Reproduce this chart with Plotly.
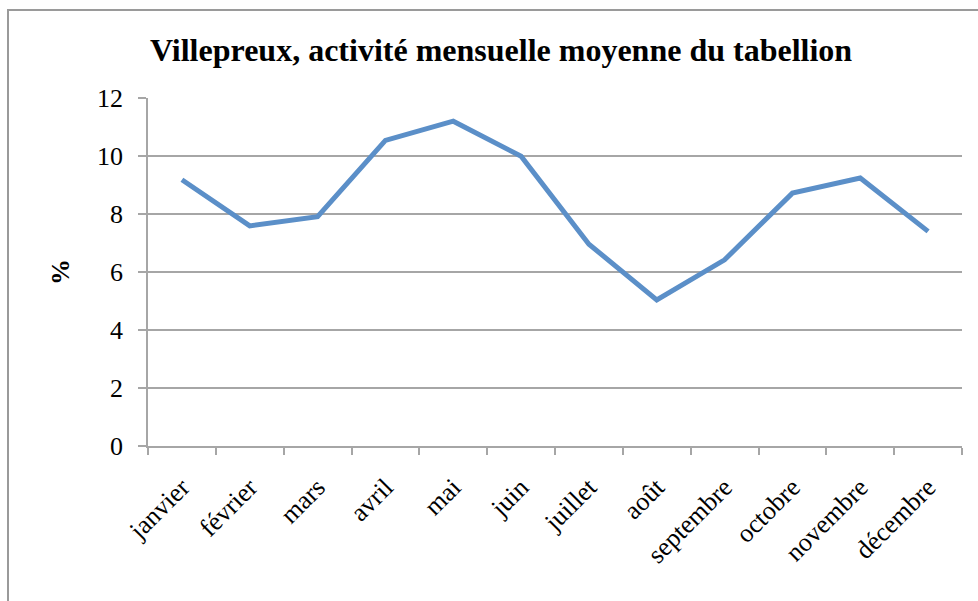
import plotly.graph_objects as go

# Monthly mean activity of the Villepreux tabellion (% of yearly acts)
months = ["janvier", "février", "mars", "avril", "mai", "juin",
          "juillet", "août", "septembre", "octobre", "novembre", "décembre"]
activity_pct = [9.18, 7.59, 7.91, 10.54, 11.2, 9.99,
                6.96, 5.04, 6.42, 8.72, 9.24, 7.40]
y_ticks = [0, 2, 4, 6, 8, 10, 12]

SERIF = "Liberation Serif, Times New Roman, serif"
GRID = "#a6a6a6"

fig = go.Figure(
    go.Scatter(
        x=months,
        y=activity_pct,
        mode="lines",
        line=dict(color="#5b8fc8", width=5),
        hoverinfo="x+y",
    )
)

W, H = 978, 601
L, R, T, B = 148, 16, 98, 155

fig.update_layout(
    width=W,
    height=H,
    margin=dict(l=L, r=R, t=T, b=B),
    paper_bgcolor="white",
    plot_bgcolor="white",
    showlegend=False,
    title=dict(
        text="<b>Villepreux, activité mensuelle moyenne du tabellion</b>",
        font=dict(family=SERIF, size=32, color="black"),
        x=501 / W,
        xanchor="center",
        y=1 - 50 / H,
        yanchor="middle",
    ),
    xaxis=dict(
        type="category",
        tickson="boundaries",
        ticks="outside",
        ticklen=7,
        tickcolor=GRID,
        tickwidth=1.5,
        tickangle=-45,
        ticklabelstandoff=14,
        tickfont=dict(family=SERIF, size=26, color="black"),
        showgrid=False,
        showline=True,
        linecolor=GRID,
        linewidth=1.5,
        range=[-0.5, len(months) - 0.5],
    ),
    yaxis=dict(
        range=[0, 12],
        tickvals=y_ticks,
        ticks="outside",
        ticklen=8,
        tickcolor=GRID,
        tickwidth=1.5,
        ticklabelstandoff=10,
        tickfont=dict(family=SERIF, size=26, color="black"),
        showgrid=True,
        gridcolor=GRID,
        gridwidth=1.5,
        showline=True,
        linecolor=GRID,
        linewidth=1.5,
        zeroline=False,
        title=dict(text="<b>%</b>", font=dict(family=SERIF, size=26, color="black"),
                   standoff=20),
    ),
)

# Chart-area frame (left and top edges visible; extends past the window)
pw = W - L - R
ph = H - T - B
fig.add_shape(
    type="rect",
    xref="paper", yref="paper",
    x0=(8 - L) / pw, x1=(990 - L) / pw,
    y0=1 - (620 - T) / ph, y1=1 - (10 - T) / ph,
    line=dict(color="#9a9a9a", width=2),
    fillcolor="rgba(0,0,0,0)",
    layer="below",
)

fig.write_html("out.html")
